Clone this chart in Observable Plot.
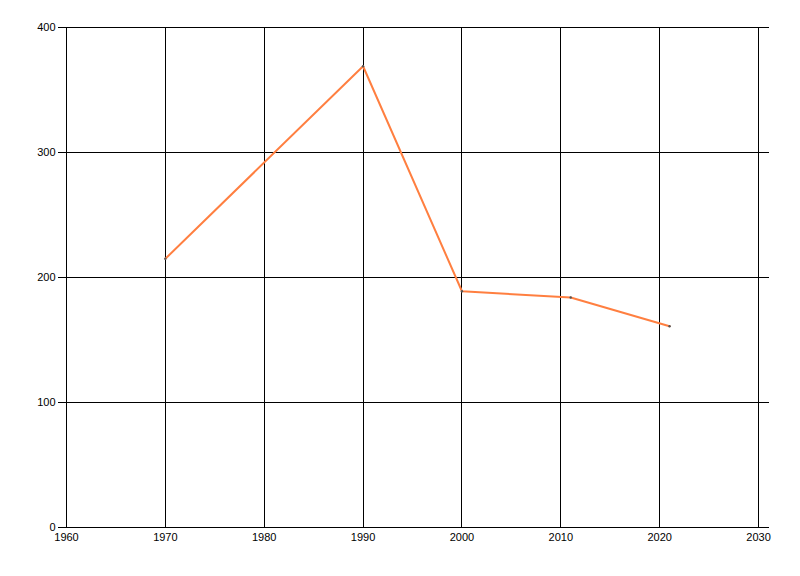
<!DOCTYPE html>
<html>
<head>
<meta charset="utf-8">
<script src="https://cdn.jsdelivr.net/npm/d3@7"></script>
<script src="https://cdn.jsdelivr.net/npm/@observablehq/plot@0.6"></script>
<style>
  html, body { margin: 0; padding: 0; background: #fff; }
  #chart svg { display: block; }
</style>
</head>
<body>
<div id="chart"></div>
<script>
const years = [1970, 1990, 2000, 2011, 2021];
const values = [215, 369, 189, 184, 161];
const xTicks = [1960, 1970, 1980, 1990, 2000, 2010, 2020, 2030];
const yTicks = [0, 100, 200, 300, 400];

const data = years.map((y, i) => ({year: y, value: values[i]}));

const chart = Plot.plot({
  width: 800,
  height: 576,
  marginLeft: 66,
  marginRight: 31,
  marginTop: 27,
  marginBottom: 49,
  style: {fontFamily: "'Liberation Sans', Arial, sans-serif", fontSize: "11px", color: "#000", background: "#fff"},
  x: {domain: [1960, 2031.11], ticks: xTicks, tickFormat: d => String(d)},
  y: {domain: [0, 400], ticks: yTicks},
  marks: [
    Plot.ruleY(yTicks, {stroke: "#000", strokeWidth: 1, strokeOpacity: 1, shapeRendering: "crispEdges"}),
    Plot.ruleX(xTicks, {y1: 0, y2: 400, stroke: "#000", strokeWidth: 1, strokeOpacity: 1, shapeRendering: "crispEdges"}),
    Plot.axisY({ticks: yTicks, tickSize: 8, tickPadding: 3, stroke: "#000", strokeOpacity: 1, label: null, fill: "#000", shapeRendering: "crispEdges"}),
    Plot.axisX({ticks: xTicks, tickSize: 0, tickPadding: 6, label: null, fill: "#000", tickFormat: d => String(d)}),
    Plot.line(data, {x: "year", y: "value", stroke: "#ff7f40", strokeWidth: 2}),
    Plot.dot(data, {x: "year", y: "value", r: 1.2, fill: "#555", stroke: "none"})
  ]
});
document.getElementById("chart").appendChild(chart);
</script>
</body>
</html>
